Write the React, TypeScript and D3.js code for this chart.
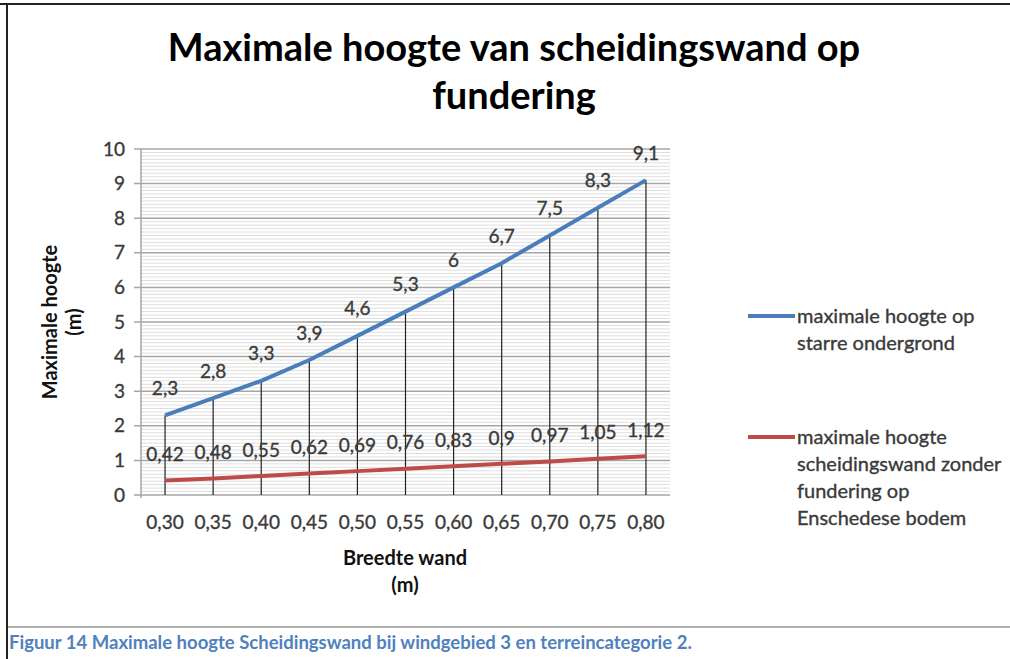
import React, { useEffect, useRef } from 'react';
import * as d3 from 'd3';

const categories = ['0,30', '0,35', '0,40', '0,45', '0,50', '0,55', '0,60', '0,65', '0,70', '0,75', '0,80'];
const starreValues = [2.3, 2.8, 3.3, 3.9, 4.6, 5.3, 6, 6.7, 7.5, 8.3, 9.1];
const zonderValues = [0.42, 0.48, 0.55, 0.62, 0.69, 0.76, 0.83, 0.9, 0.97, 1.05, 1.12];
const yTicks = [0, 1, 2, 3, 4, 5, 6, 7, 8, 9, 10];
const titleLines = ['Maximale hoogte van scheidingswand op', 'fundering'];
const legendBlue = ['maximale hoogte op', 'starre ondergrond'];
const legendRed = ['maximale hoogte', 'scheidingswand zonder', 'fundering op', 'Enschedese bodem'];
const caption = 'Figuur 14 Maximale hoogte Scheidingswand bij windgebied 3 en terreincategorie 2.';

const fmt = (v: number) => String(v).replace('.', ',');

const App = () => {
  const svgRef = useRef<SVGSVGElement>(null);
  const width = 1010;
  const height = 659;

  useEffect(() => {
    const svg = d3.select(svgRef.current);
    svg.selectAll('*').remove();

    const font = 'Lato, "Open Sans", sans-serif';
    const textColor = '#3a3a3a';

    // plot area
    const left = 141, right = 670, top = 149, bottom = 495;

    const x = d3.scaleBand<string>().domain(categories).range([left, right]).padding(0);
    const cx = (c: string) => (x(c) as number) + x.bandwidth() / 2;
    const y = d3.scaleLinear().domain([0, 10]).range([bottom, top]);

    // regular text helper, thickened a little
    const reg = (sel: any, size: number) => sel
      .style('font-family', font)
      .style('font-size', `${size}px`)
      .style('fill', textColor)
      .style('stroke', textColor)
      .style('stroke-width', '0.35px');

    // frame
    svg.append('line').attr('x1', 0).attr('x2', width).attr('y1', 4).attr('y2', 4)
      .attr('stroke', '#222').attr('stroke-width', 2);
    svg.append('line').attr('x1', 7).attr('x2', 7).attr('y1', 3).attr('y2', height)
      .attr('stroke', '#222').attr('stroke-width', 2);
    svg.append('line').attr('x1', 8).attr('x2', width).attr('y1', 627).attr('y2', 627)
      .attr('stroke', '#b0b0b0').attr('stroke-width', 2);

    // title
    svg.append('g').selectAll('text').data(titleLines).enter().append('text')
      .attr('x', 514)
      .attr('y', (d, i) => 61 + i * 48)
      .attr('text-anchor', 'middle')
      .style('font-family', font)
      .style('font-weight', 'bold')
      .style('font-size', '38px')
      .style('fill', '#000')
      .text(d => d);

    // minor gridlines
    const minor = d3.range(0, 100).map(i => i / 10).filter(v => Math.abs(v - Math.round(v)) > 0.01);
    svg.append('g').selectAll('line').data(minor).enter().append('line')
      .attr('x1', left).attr('x2', right)
      .attr('y1', d => y(d)).attr('y2', d => y(d))
      .attr('stroke', '#dedede').attr('stroke-width', 1);

    // major gridlines
    svg.append('g').selectAll('line').data(yTicks).enter().append('line')
      .attr('x1', left - 7).attr('x2', right)
      .attr('y1', d => y(d)).attr('y2', d => y(d))
      .attr('stroke', '#a6a6a6').attr('stroke-width', 1.5);

    // y axis
    svg.append('line').attr('x1', left).attr('x2', left).attr('y1', top).attr('y2', bottom + 3)
      .attr('stroke', '#a6a6a6').attr('stroke-width', 1.5);

    reg(svg.append('g').selectAll('text').data(yTicks).enter().append('text')
      .attr('x', 125)
      .attr('y', d => y(d))
      .attr('dy', '0.35em')
      .attr('text-anchor', 'end')
      .text(d => String(d)), 19);

    // x tick labels
    reg(svg.append('g').selectAll('text').data(categories).enter().append('text')
      .attr('x', d => cx(d))
      .attr('y', 522)
      .attr('dy', '0.35em')
      .attr('text-anchor', 'middle')
      .text(d => d), 19);

    // axis titles
    const bold = (sel: any) => sel
      .style('font-family', font).style('font-weight', 'bold').style('font-size', '20px')
      .style('fill', '#111');
    bold(svg.append('text').attr('x', 405).attr('y', 558).attr('dy', '0.35em')
      .attr('text-anchor', 'middle').text('Breedte wand'));
    bold(svg.append('text').attr('x', 405).attr('y', 585).attr('dy', '0.35em')
      .attr('text-anchor', 'middle').text('(m)'));

    const yt = svg.append('g').attr('transform', 'translate(50,322) rotate(-90)');
    bold(yt.append('text').attr('x', 0).attr('y', 0).attr('dy', '0.35em')
      .attr('text-anchor', 'middle').text('Maximale hoogte'));
    bold(yt.append('text').attr('x', 0).attr('y', 24).attr('dy', '0.35em')
      .attr('text-anchor', 'middle').text('(m)'));

    // drop lines
    svg.append('g').selectAll('line').data(categories).enter().append('line')
      .attr('x1', d => cx(d)).attr('x2', d => cx(d))
      .attr('y1', (d, i) => y(starreValues[i])).attr('y2', y(0))
      .attr('stroke', '#222').attr('stroke-width', 1.2);

    // lines
    const line = d3.line<number>()
      .x((d, i) => cx(categories[i]))
      .y(d => y(d));

    svg.append('path').datum(zonderValues)
      .attr('fill', 'none').attr('stroke', '#be4b48').attr('stroke-width', 4)
      .attr('d', line);
    svg.append('path').datum(starreValues)
      .attr('fill', 'none').attr('stroke', '#4a7ebb').attr('stroke-width', 4)
      .attr('d', line);

    // data labels
    const addLabels = (vals: number[], off: number) => {
      reg(svg.append('g').selectAll('text').data(vals).enter().append('text')
        .attr('x', (d, i) => cx(categories[i]))
        .attr('y', d => y(d) - off)
        .attr('dy', '0.35em')
        .attr('text-anchor', 'middle')
        .text(d => fmt(d)), 19);
    };
    addLabels(starreValues, 27);
    addLabels(zonderValues, 26);

    // legend
    const legend = (color: string, lines: string[], ly: number) => {
      svg.append('line').attr('x1', 748).attr('x2', 795).attr('y1', ly).attr('y2', ly)
        .attr('stroke', color).attr('stroke-width', 4);
      reg(svg.append('g').selectAll('text').data(lines).enter().append('text')
        .attr('x', 797)
        .attr('y', (d, i) => ly + i * 27)
        .attr('dy', '0.35em')
        .text(d => d), 20);
    };
    legend('#4a7ebb', legendBlue, 316);
    legend('#be4b48', legendRed, 437);

    // caption
    svg.append('text').attr('x', 9).attr('y', 643).attr('dy', '0.35em')
      .style('font-family', font).style('font-weight', 'bold').style('font-size', '18.5px')
      .style('fill', '#4f81bd')
      .text(caption);
  }, []);

  return (
    <svg ref={svgRef} width={width} height={height}
      style={{ position: 'absolute', left: 0, top: 0, background: '#fff' }} />
  );
};

export default App;
